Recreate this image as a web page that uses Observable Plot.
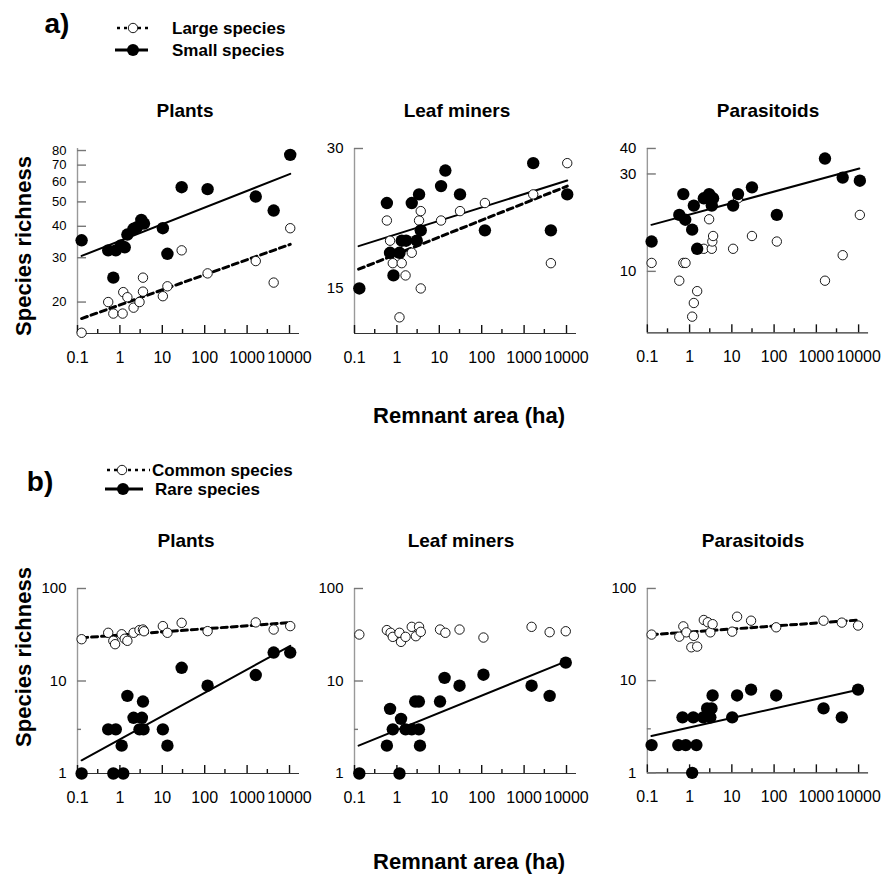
<!DOCTYPE html>
<html><head><meta charset="utf-8">
<script src="https://cdn.jsdelivr.net/npm/d3@7"></script>
<script src="https://cdn.jsdelivr.net/npm/@observablehq/plot@0.6"></script>
<style>
body{margin:0;background:#fff;}
#root{position:relative;width:888px;height:876px;overflow:hidden;font-family:"Liberation Sans",Arial,sans-serif;color:#000;background:#fff;}
.t{position:absolute;transform:translate(-50%,-50%);white-space:nowrap;font-weight:bold;line-height:1;}
.p{position:absolute;}
</style></head><body><div id="root"></div>
<script>
// ---------- data ----------
// [remnant area (ha), species richness]
const plantsSmall = [[0.125,35.2],[0.53,32.1],[0.7,25],[0.8,32.1],[1.06,33.6],[1.3,33],[1.5,37.1],[2.1,39.1],[2.55,39.7],[3.2,42.4],[3.7,41],[10.3,39.3],[13.2,31.1],[28.6,57.2],[117,56.2],[1600,52.5],[4230,46.2],[10400,76.9]];
const plantsLarge = [[0.125,15.1],[0.53,20.0],[0.7,18.0],[1.16,18.0],[1.2,21.9],[1.5,20.9],[2.1,19.0],[2.9,20.0],[3.5,22.0],[3.5,25.0],[10.3,21.1],[13.2,23.1],[28.6,32.1],[117,26],[1600,29.1],[4230,23.9],[10400,39.3]];
const leafSmall = [[0.13,15],[0.58,22.9],[0.69,17.9],[0.83,16.0],[1.15,17.9],[1.3,19.0],[1.65,19.0],[2.24,22.9],[2.94,19.0],[3.33,23.9],[3.65,20.0],[11,24.9],[13.9,26.9],[30.8,23.9],[119,20.0],[1640,27.9],[4280,20.0],[10400,23.9]];
const leafLarge = [[0.58,21.0],[0.69,19.0],[0.8,17.0],[1.15,13.0],[1.3,17.0],[1.6,16.0],[2.24,17.9],[3.33,21.0],[3.65,22.0],[3.65,15.0],[11,21.0],[30.8,22.0],[119,22.9],[1640,23.9],[4280,17.0],[10400,27.9]];
const parasSmall = [[0.126,14.0],[0.57,18.9],[0.71,23.9],[0.79,17.9],[1.15,16.0],[1.26,21.0],[1.51,12.9],[2.17,22.8],[2.9,23.9],[3.35,21.0],[3.6,22.8],[10.7,21.0],[14,23.9],[29.9,25.8],[116,18.9],[1600,35.7],[4200,28.8],[10700,27.8]];
const parasLarge = [[0.126,11.0],[0.57,9.0],[0.71,11.0],[0.8,11.0],[1.15,6.0],[1.26,7.0],[1.51,8.0],[2.17,12.9],[2.9,18.0],[3.35,12.9],[3.45,14.0],[3.6,14.9],[10.7,12.9],[14,22.8],[29.9,14.9],[116,14.0],[1600,9.0],[4200,12.0],[10700,18.9]];

const plantsCommon = [[0.125,28.3],[0.53,33.2],[0.7,27.2],[0.77,25],[1.1,32],[1.3,28.6],[1.5,27.2],[2.1,33.2],[2.9,35.5],[3.5,36],[3.7,34.5],[10.3,39.2],[13.2,33.2],[28.6,42.5],[117,34.6],[1600,43],[4230,36],[10400,39.2]];
const plantsRare = [[0.125,1],[0.53,3],[0.7,1],[0.8,3],[1.1,2],[1.2,1],[1.5,6.9],[2.1,4],[2.9,3],[3.3,4],[3.5,6],[3.6,3],[10.3,3],[13.2,2],[28.6,13.9],[117,8.9],[1600,11.6],[4230,20.3],[10400,20.3]];
const leafCommon = [[0.13,31.8],[0.58,35.5],[0.71,33.2],[0.8,30],[1.15,33.2],[1.25,26.5],[1.6,30],[2.24,38.5],[2.8,30.5],[3.33,38.5],[3.65,34],[10.4,36],[13.9,33.2],[30,36],[110,29.5],[1500,38.5],[4000,33.7],[9600,34.5]];
const leafRare = [[0.13,1],[0.58,2],[0.69,5],[0.8,3],[1.15,1],[1.25,3.9],[1.6,3],[2.24,3],[2.7,6],[3.3,6],[3.3,3],[3.5,2],[10.4,6],[13.3,10.8],[30,8.9],[110,11.7],[1500,8.9],[4000,6.9],[9600,15.8]];
const parasCommon = [[0.126,31.6],[0.57,30],[0.71,38.8],[0.84,33.4],[1.1,23],[1.26,30.6],[1.51,23.4],[2.17,45.5],[2.7,43],[3.1,33.4],[3.5,41],[10.2,34],[13.3,49.4],[28.5,44.7],[112,37.9],[1480,44.7],[4000,42.6],[9700,39.6]];
const parasRare = [[0.126,2],[0.54,2],[0.68,4],[0.81,2],[1.15,1],[1.22,4],[1.45,2],[2.1,4],[2.6,5],[3.1,4],[3.3,5],[3.5,6.9],[10.2,4],[13.3,6.9],[28.5,8],[112,6.9],[1480,5],[4000,4],[9700,8]];

// fitted regression lines: richness at the two ends of fitArea
const fitArea = [0.125, 10400];
const plantsSmallFit = [30.5, 64.6];
const plantsLargeFit = [17.2, 33.9];
const leafSmallFit = [18.5, 25.6];
const leafLargeFit = [16.5, 24.9];
const parasSmallFit = [16.9, 31.9];
const plantsRareFit = [1.39, 24.0];
const plantsCommonFit = [29.3, 42.8];
const leafRareFit = [2.0, 16.5];
const parasRareFit = [2.51, 8.0];
const parasCommonFit = [31.5, 45.5];

// ticks
const xMajor = [0.1, 1, 10, 100, 1000, 10000];
const xMinor = [0.3, 3, 30, 300, 3000];
const xLabels = ["0.1", "1", "10", "100", "1000", "10000"];
const xDomain = [0.1, 17200];

const panelTitles = ["Plants", "Leaf miners", "Parasitoids"];

// ---------- layout ----------
const ML = 45, MR = 20, MT = 10, MB = 40, FW = 222, FH = 185;
const root = document.getElementById("root");
const FONT = '"Liberation Sans", Arial, sans-serif';

function panel(cfg) {
  const xOpt = {type: "log", domain: xDomain, range: [ML, ML + FW]};
  const yOpt = {type: "log", domain: cfg.ydomain, range: [MT + FH, MT]};
  const xs = Plot.scale({x: xOpt});
  const ys = Plot.scale({y: yOpt});
  const x0 = xDomain[0], y0 = cfg.ydomain[0];
  // inward tick ends, in data units, via the library's scales
  const yUp = len => ys.invert(ys.apply(y0) - len);
  const xIn = len => xs.invert(xs.apply(x0) + len);

  const marks = [
    Plot.ruleY([y0], {stroke: "#333", strokeWidth: 1.2}),
    Plot.ruleX([x0], {stroke: "#999", strokeWidth: 1.4}),
    Plot.ruleX(xMajor, {x: d => d, y1: y0, y2: yUp(8), stroke: "#111", strokeWidth: 1.4}),
    Plot.ruleX(xMinor, {x: d => d, y1: y0, y2: yUp(4), stroke: "#111", strokeWidth: 1.4}),
    Plot.axisX({ticks: xMajor, tickSize: 0, tickPadding: 18, tickFormat: d => xLabels[xMajor.indexOf(d)], label: null, fontSize: 16, fill: "#000"}),
    Plot.ruleY(cfg.yMajor, {y: d => d, x1: x0, x2: xIn(9), stroke: "#777", strokeWidth: 1.4}),
    cfg.yMinor.length ? Plot.ruleY(cfg.yMinor, {y: d => d, x1: x0, x2: xIn(4), stroke: "#777", strokeWidth: 1.4}) : null,
    Plot.axisY({ticks: cfg.yLabels, tickSize: 0, tickPadding: 11, tickFormat: d => String(d), label: null, fontSize: cfg.yFont, fill: "#000"})
  ];
  for (const f of cfg.fits) {
    marks.push(Plot.line(fitArea.map((x, i) => ({x, y: f.v[i]})), {
      x: "x", y: "y", stroke: "black",
      strokeWidth: f.dash ? 3 : 2,
      strokeDasharray: f.dash ? "6,4" : null
    }));
  }
  if (cfg.open) marks.push(Plot.dot(cfg.open, {x: d => d[0], y: d => d[1], r: 4.7, fill: "white", stroke: "black", strokeWidth: 0.9}));
  if (cfg.filled) marks.push(Plot.dot(cfg.filled, {x: d => d[0], y: d => d[1], r: 6.2, fill: "black", stroke: "none"}));

  const chart = Plot.plot({
    width: ML + FW + MR, height: MT + FH + MB,
    marginLeft: ML, marginRight: MR, marginTop: MT, marginBottom: MB,
    x: xOpt,
    y: yOpt,
    style: {fontFamily: FONT, fontSize: "16px", color: "#000", background: "transparent", overflow: "visible"},
    marks: marks.filter(Boolean)
  });
  const wrap = document.createElement("div");
  wrap.className = "p";
  wrap.style.left = (cfg.left - ML) + "px";
  wrap.style.top = (cfg.top - MT) + "px";
  wrap.appendChild(chart);
  root.appendChild(wrap);
}

function text(str, x, y, size) {
  const d = document.createElement("div");
  d.className = "t";
  d.textContent = str;
  d.style.left = x + "px";
  d.style.top = y + "px";
  d.style.fontSize = size + "px";
  root.appendChild(d);
}

// ---------- panels a ----------
panel({left: 77, top: 148, ydomain: [15, 81.5], yMajor: [20, 30, 40, 50, 60, 70, 80], yMinor: [], yLabels: [20, 30, 40, 50, 60, 70, 80], yFont: 13,
  open: plantsLarge, filled: plantsSmall, fits: [{v: plantsLargeFit, dash: true}, {v: plantsSmallFit, dash: false}]});
panel({left: 354, top: 148, ydomain: [12, 30], yMajor: [15, 30], yMinor: [], yLabels: [15, 30], yFont: 15,
  open: leafLarge, filled: leafSmall, fits: [{v: leafLargeFit, dash: true}, {v: leafSmallFit, dash: false}]});
panel({left: 647, top: 148, ydomain: [5, 40], yMajor: [10, 30, 40], yMinor: [], yLabels: [10, 30, 40], yFont: 15,
  open: parasLarge, filled: parasSmall, fits: [{v: parasSmallFit, dash: false}]});

// ---------- panels b ----------
panel({left: 77, top: 588, ydomain: [1, 100], yMajor: [1, 10, 100], yMinor: [3, 30], yLabels: [1, 10, 100], yFont: 15,
  open: plantsCommon, filled: plantsRare, fits: [{v: plantsCommonFit, dash: true}, {v: plantsRareFit, dash: false}]});
panel({left: 354, top: 588, ydomain: [1, 100], yMajor: [1, 10, 100], yMinor: [3, 30], yLabels: [1, 10, 100], yFont: 15,
  open: leafCommon, filled: leafRare, fits: [{v: leafRareFit, dash: false}]});
panel({left: 647, top: 588, ydomain: [1, 100], yMajor: [1, 10, 100], yMinor: [3, 30], yLabels: [1, 10, 100], yFont: 15,
  open: parasCommon, filled: parasRare, fits: [{v: parasCommonFit, dash: true}, {v: parasRareFit, dash: false}]});

// ---------- texts ----------
text("a)", 57, 24, 28);
text("b)", 40, 482, 28);
text(panelTitles[0], 185, 110, 19);
text(panelTitles[1], 457, 110, 19);
text(panelTitles[2], 768, 110, 19);
text(panelTitles[0], 186, 540, 19);
text(panelTitles[1], 461, 540, 19);
text(panelTitles[2], 753, 540, 19);
text("Remnant area (ha)", 469, 416, 22);
text("Remnant area (ha)", 469, 862, 22);

// overlay svg: rotated axis titles and legends
const NS = "http://www.w3.org/2000/svg";
const lsvg = document.createElementNS(NS, "svg");
lsvg.setAttribute("width", 888); lsvg.setAttribute("height", 876);
lsvg.style.cssText = "position:absolute;left:0;top:0;pointer-events:none;";
for (const cy of [246, 657]) {
  const t = document.createElementNS(NS, "text");
  t.setAttribute("transform", `translate(31,${cy}) rotate(-90)`);
  t.setAttribute("text-anchor", "middle");
  t.setAttribute("font-family", FONT);
  t.setAttribute("font-weight", "bold");
  t.setAttribute("font-size", 22);
  t.textContent = "Species richness";
  lsvg.appendChild(t);
}
const legendItems = [
  {label: "Large species", x0: 117, x1: 150, cx: 133, y: 28, tx: 172, open: true},
  {label: "Small species", x0: 115, x1: 148, cx: 133, y: 50, tx: 172, open: false},
  {label: "Common species", x0: 107, x1: 150, cx: 122, y: 470, tx: 152, open: true},
  {label: "Rare species", x0: 105, x1: 143, cx: 123, y: 489, tx: 155, open: false}
];
for (const it of legendItems) {
  const ln = document.createElementNS(NS, "line");
  ln.setAttribute("x1", it.x0); ln.setAttribute("x2", it.x1);
  ln.setAttribute("y1", it.y); ln.setAttribute("y2", it.y);
  ln.setAttribute("stroke", "black");
  ln.setAttribute("stroke-width", it.open ? 2.5 : 3);
  if (it.open) ln.setAttribute("stroke-dasharray", "3,4");
  lsvg.appendChild(ln);
  const c = document.createElementNS(NS, "circle");
  c.setAttribute("cx", it.cx); c.setAttribute("cy", it.y);
  c.setAttribute("r", it.open ? 4.7 : 6);
  c.setAttribute("fill", it.open ? "white" : "black");
  c.setAttribute("stroke", it.open ? "black" : "none");
  c.setAttribute("stroke-width", 0.9);
  lsvg.appendChild(c);
  const t = document.createElementNS(NS, "text");
  t.setAttribute("x", it.tx); t.setAttribute("y", it.y);
  t.setAttribute("dy", "0.36em");
  t.setAttribute("font-family", FONT);
  t.setAttribute("font-weight", "bold");
  t.setAttribute("font-size", 17);
  t.textContent = it.label;
  lsvg.appendChild(t);
}
root.appendChild(lsvg);
</script></body></html>
